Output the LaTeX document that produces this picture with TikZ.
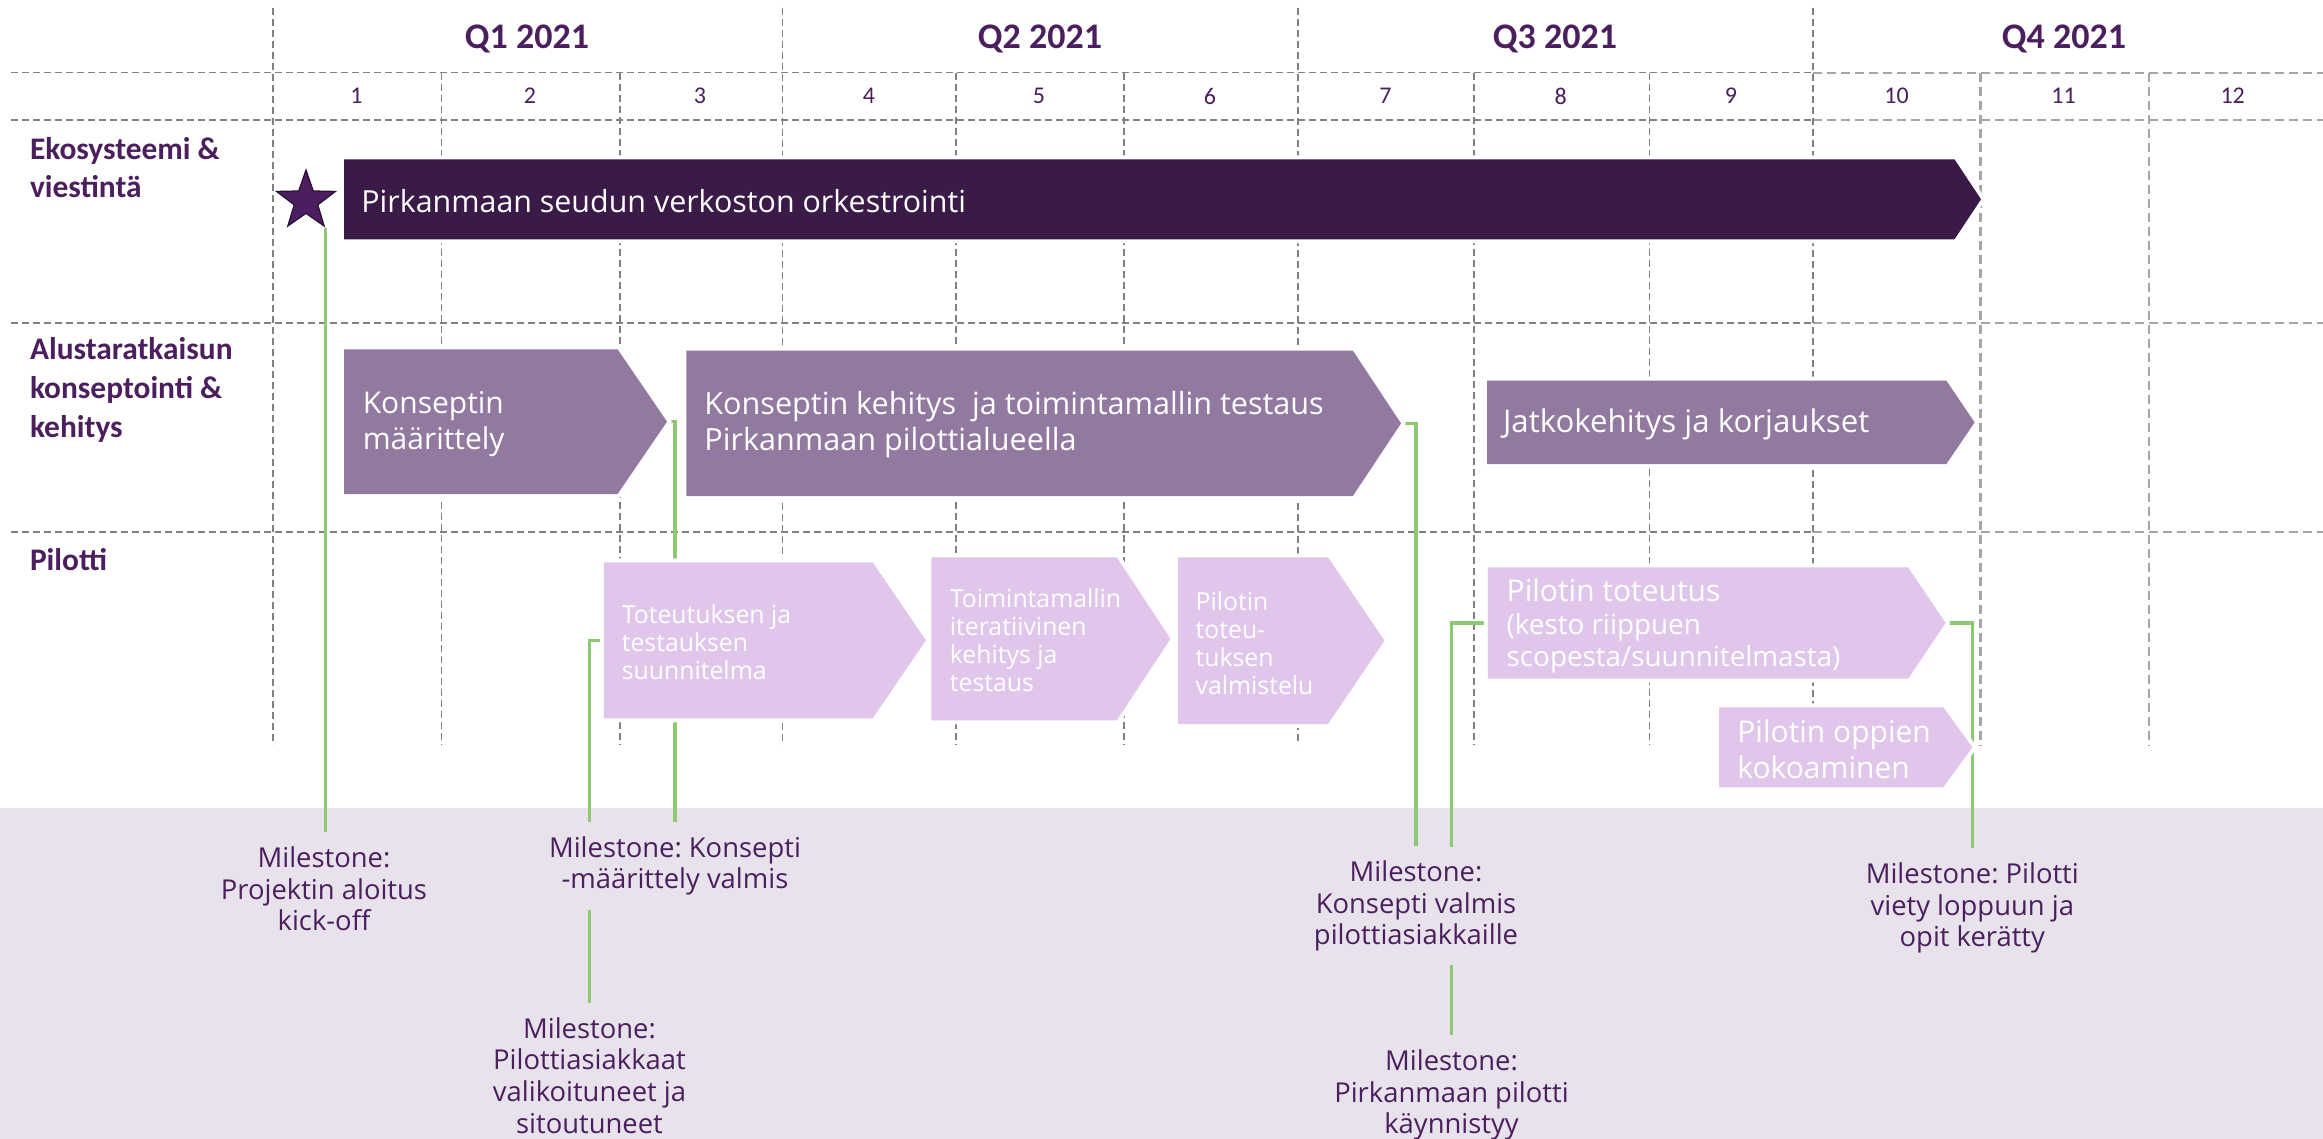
\documentclass[tikz,border=0pt]{standalone}
\usepackage{fontspec}
\setmainfont{Open Sans}
\newfontfamily\calfont{Carlito}
\usetikzlibrary{shapes.geometric,backgrounds}
\frenchspacing
\definecolor{darkbar}{HTML}{3A1A47}
\definecolor{midbox}{HTML}{9279A0}
\definecolor{lightbox}{HTML}{DFC6EA}
\definecolor{panelbg}{HTML}{E7E2EB}
\definecolor{txtpurple}{HTML}{4B1F5E}
\definecolor{mgreen}{HTML}{8CC972}
\definecolor{gridgray}{HTML}{808080}
\definecolor{gridlight}{HTML}{A5A5A5}
\definecolor{starfill}{HTML}{4B1E5F}
\definecolor{starline}{HTML}{2B1035}
% #1 style, #2 name, #3 left x, #4 top y, #5 flat end x, #6 tip x, #7 bottom y
\newcommand{\chevbox}[7]{%
  \fill[#1] (#3,#4) -- (#5,#4) -- (#6,{(#4+#7)/2}) -- (#5,#7) -- (#3,#7) -- cycle;
  \coordinate (#2-tip) at (#6,{(#4+#7)/2});
  \coordinate (#2-w) at (#3,{(#4+#7)/2});
}
\begin{document}
\frenchspacing
\begin{tikzpicture}[x=0.5pt,y=-0.5pt,
  grid/.style={gridgray, line width=0.8pt, dash pattern=on 3.5pt off 2pt},
  gridlt/.style={gridlight, line width=1.1pt, dash pattern=on 4.5pt off 2.5pt},
  halo/.style={preaction={draw=white,line width=4pt}},
  barA/.style={fill=darkbar, halo},
  barB/.style={fill=midbox, halo},
  barC/.style={fill=lightbox, halo},
  bigtxt/.style={text=white, anchor=west, align=left, inner sep=0pt, font=\fontsize{15}{17.8}\selectfont},
  smalltxt/.style={text=white, anchor=west, align=left, inner sep=0pt, font=\fontsize{12.4}{14}\selectfont},
  quarter/.style={text=txtpurple, font=\calfont\bfseries\fontsize{18}{20}\selectfont},
  month/.style={text=txtpurple, font=\calfont\fontsize{12}{14}\selectfont},
  rowlab/.style={text=txtpurple, anchor=west, align=left, inner sep=0pt, font=\calfont\bfseries\fontsize{15.7}{19.3}\selectfont},
  mslab/.style={text=txtpurple, fill=panelbg, align=center, inner sep=7pt, font=\fontsize{13.7}{15.85}\selectfont},
  msline/.style={mgreen, line width=1.7pt},
]
\useasboundingbox (0,0) rectangle (2323,1139);

% headers
\node[quarter] (q1) at (527,39) {Q1 2021};
\node[quarter] (q2) at (1040,39) {Q2 2021};
\node[quarter] (q3) at (1555,39) {Q3 2021};
\node[quarter] (q4) at (2064,39) {Q4 2021};
\foreach \x/\n in {356.5/1,530/2,700/3,869/4,1039/5,1210/6,1385.5/7,1560.6/8,1731/9,1896.6/10,2063.6/11,2232.7/12}
  \node[month] (m\n) at (\x,96) {\n};

% row labels
\node[rowlab] (r1) at (29.6,167.5) {Ekosysteemi \&\\viestintä};
\node[rowlab] (r2) at (29.6,390) {Alustaratkaisun\\konseptointi \&\\kehitys};
\node[rowlab] (r3) at (29.6,560) {Pilotti};

% star
\node[star, star points=5, star point ratio=2.5, minimum size=31pt, inner sep=0pt,
      fill=starfill, draw=starline, line width=0.6pt] (star) at (306,201) {};

% bars
\chevbox{barA}{bar}{344}{159.3}{1954.5}{1981}{239.3}
\node[bigtxt, font=\fontsize{15.2}{17.8}\selectfont] (bart) at (361,201) {Pirkanmaan seudun verkoston orkestrointi};
\chevbox{barB}{b1}{344}{349.3}{617.6}{667}{494}
\node[bigtxt] (b1t) at (362.4,424) {Konseptin\\määrittely};
\chevbox{barB}{b2}{686.4}{350.7}{1352.9}{1401}{496}
\node[bigtxt, font=\fontsize{15.3}{17.8}\selectfont] (b2t) at (704,424.4) {Konseptin kehitys\ \ ja toimintamallin testaus\\Pirkanmaan pilottialueella};
\chevbox{barB}{b3}{1487}{380.7}{1946.4}{1974.6}{464}
\node[bigtxt, font=\fontsize{15.6}{17.8}\selectfont] (b3t) at (1502.7,424) {Jatkokehitys ja korjaukset};
\chevbox{barC}{p1}{603.9}{562.3}{872.7}{925.9}{718.3}
\node[smalltxt] (p1t) at (621.4,642) {Toteutuksen ja\\testauksen\\suunnitelma};
\chevbox{barC}{p2}{931.4}{557.3}{1116.8}{1170.5}{720.3}
\node[smalltxt] (p2t) at (949.5,640.3) {Toimintamallin\\iteratiivinen\\kehitys ja\\testaus};
\chevbox{barC}{p3}{1178.2}{557.3}{1328}{1384.5}{724}
\node[smalltxt] (p3t) at (1195.2,643) {Pilotin\\toteu-\\tuksen\\valmistelu};
\chevbox{barC}{p4}{1487.9}{567.3}{1908.1}{1945.6}{678.7}
\node[bigtxt, font=\fontsize{15}{16.3}\selectfont] (p4t) at (1506.3,626) {Pilotin toteutus\\{\fontsize{13.9}{16.3}\selectfont(kesto riippuen}\\{\fontsize{13.9}{16.3}\selectfont scopesta/suunnitelmasta)}};
\chevbox{barC}{p5}{1719}{707.3}{1943.3}{1972.4}{787.3}
\node[bigtxt] (p5t) at (1737,749) {Pilotin oppien\\kokoaminen};

% milestone labels
\node[mslab] (ms1) at (324,889) {Milestone:\\Projektin aloitus\\kick-off};
\node[mslab] (ms2) at (675,866) {Milestone: Konsepti\\-määrittely valmis};
\node[mslab] (ms3) at (589.5,1075.5) {Milestone:\\Pilottiasiakkaat\\valikoituneet ja\\sitoutuneet};
\node[mslab] (ms4) at (1416,906) {Milestone:\\Konsepti valmis\\pilottiasiakkaille};
\node[mslab] (ms5) at (1451.5,1095) {Milestone:\\Pirkanmaan pilotti\\käynnistyy};
\node[mslab] (ms6) at (1972.3,908) {Milestone: Pilotti\\viety loppuun ja\\opit kerätty};

\begin{scope}[on background layer]
  \fill[panelbg] (0,807.7) rectangle (2323,1139);
  % horizontal grid
  \foreach \y in {72.7,120,323,532} {
    \draw[grid] (11,\y) -- (1813,\y);
    \draw[gridlt] (1813,\y) -- (2323,\y);
  }
  % quarter lines
  \foreach \x in {273,782.5,1298,1812.8}
    \draw[grid] (\x,8) -- (\x,745);
  % month lines
  \foreach \x in {441.6,620,956,1124,1473.8,1649.6}
    \draw[grid] (\x,72.7) -- (\x,745);
  \foreach \x in {1980.5,2148.9}
    \draw[gridlt] (\x,72.7) -- (\x,745);
  % milestone connectors
  \draw[msline] (star.outer point 4) -- (star.outer point 4 |- ms1.north);
  \draw[msline] (b1-tip) -| (ms2.north);
  \draw[msline] (p1-w) -| (ms3.north);
  \draw[msline] (b2-tip) -| (ms4.north);
  \draw[msline] (p4-w) -| (ms5.north);
  \draw[msline] (p4-tip) -| (ms6.north);
\end{scope}
\end{tikzpicture}
\end{document}
